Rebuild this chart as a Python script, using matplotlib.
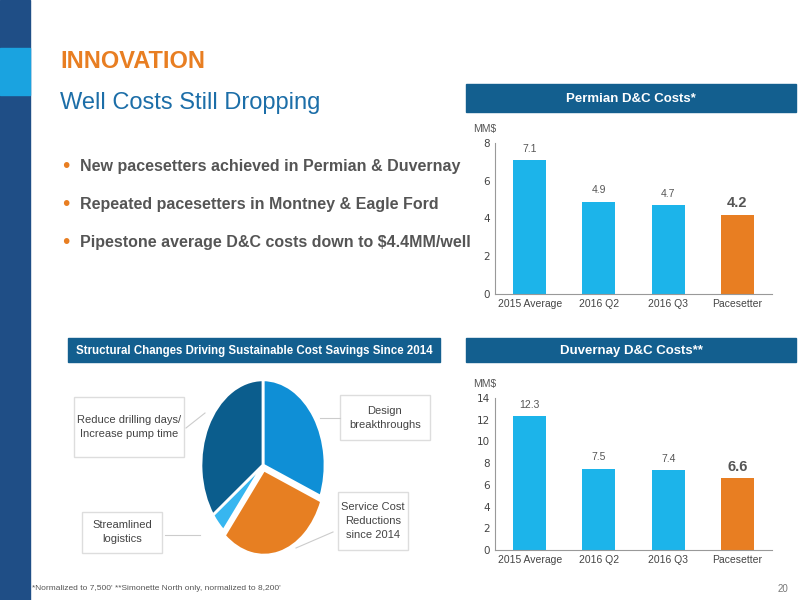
import matplotlib
matplotlib.use("Agg")
import matplotlib.pyplot as plt
from matplotlib.patches import Rectangle

cats = ["2015 Average", "2016 Q2", "2016 Q3", "Pacesetter"]
permian = [7.1, 4.9, 4.7, 4.2]
duvernay = [12.3, 7.5, 7.4, 6.6]
pie_labels = ["Design\nbreakthroughs", "Service Cost\nReductions\nsince 2014", "Streamlined\nlogistics", "Reduce drilling days/\nIncrease pump time"]
pie_vals = [31, 30, 4, 35]
pie_colors = ["#0f8fd6", "#e77f22", "#37b6f0", "#0b5d8d"]

BLUE = "#1cb4ea"; ORANGE = "#e87e22"; HDR = "#135f8f"
FONT = "Liberation Sans"
fig = plt.figure(figsize=(8, 6), dpi=100)
W, H = 800, 600
def ax_px(x0, y0, x1, y1, **kw):
    return fig.add_axes([x0/W, 1-y1/H, (x1-x0)/W, (y1-y0)/H], **kw)
def fx(x): return x/W
def fy(y): return 1-y/H

fig.patches.append(Rectangle((0, 0), fx(30), 1, transform=fig.transFigure, color="#1f4e86", zorder=0))
fig.patches.append(Rectangle((0, fy(95)), fx(30), fy(48)-fy(95), transform=fig.transFigure, color="#1aa3e0", zorder=1))

fig.text(fx(60), fy(62), "INNOVATION", color=ORANGE, fontsize=17, fontweight="bold", va="center", family=FONT)
fig.text(fx(60), fy(103), "Well Costs Still Dropping", color="#1c6ea8", fontsize=17, va="center", family=FONT)
bullets = ["New pacesetters achieved in Permian & Duvernay",
           "Repeated pacesetters in Montney & Eagle Ford",
           "Pipestone average D&C costs down to $4.4MM/well"]
for i, b in enumerate(bullets):
    y = fy(167 + 38*i)
    fig.text(fx(60), y, "•", color=ORANGE, fontsize=14, va="center")
    fig.text(fx(80), y, b, color="#555555", fontsize=11.5, fontweight="bold", va="center", family=FONT)

def header(x0, y0, x1, y1, txt, fs):
    fig.patches.append(Rectangle((fx(x0), fy(y1)), fx(x1-x0), fy(y0)-fy(y1), transform=fig.transFigure, color=HDR))
    fig.text(fx((x0+x1)/2), fy((y0+y1)/2 + 1), txt, color="white", fontsize=fs, fontweight="bold", ha="center", va="center", family=FONT)

header(466, 84, 796, 112, "Permian D&C Costs*", 9.5)
header(466, 338, 796, 362, "Duvernay D&C Costs**", 9.5)
header(68, 338, 440, 362, "Structural Changes Driving Sustainable Cost Savings Since 2014", 8.3)

def bars(ax, vals, ymax, step):
    cols = [BLUE]*3 + [ORANGE]
    ax.bar(range(4), vals, width=0.48, color=cols)
    ax.set_ylim(0, ymax); ax.set_xlim(-0.5, 3.5)
    ax.set_yticks(range(0, ymax+1, step))
    ax.set_xticks(range(4)); ax.set_xticklabels(cats, family=FONT)
    ax.tick_params(labelsize=7.5, colors="#444444", length=0)
    for s in ["top", "right"]: ax.spines[s].set_visible(False)
    for s in ["left", "bottom"]: ax.spines[s].set_color("#999999")
    for i, v in enumerate(vals):
        if i < 3:
            ax.text(i, v + ymax*0.04, f"{v}", ha="center", va="bottom", fontsize=7.5, color="#555555", family=FONT)
        else:
            ax.text(i, v + ymax*0.03, f"{v}", ha="center", va="bottom", fontsize=10.5, fontweight="bold", color="#555555", family=FONT)
    ax.text(-0.08, 1.07, "MM$", transform=ax.transAxes, fontsize=7.5, color="#555555", ha="left", family=FONT)

a1 = ax_px(495, 143, 772, 294); bars(a1, permian, 8, 2)
a2 = ax_px(495, 398, 772, 550); bars(a2, duvernay, 14, 2)

ap = ax_px(196, 373, 330, 557)
ap.pie(pie_vals, colors=pie_colors, startangle=90, counterclock=False, explode=[0, 0.06, 0, 0],
       wedgeprops=dict(edgecolor="white", linewidth=2))
ap.set_aspect("auto"); ap.set_xlim(-1.08, 1.08); ap.set_ylim(-1.08, 1.08)

boxes = [(340, 395, 430, 440, pie_labels[0], (320, 418), (340, 418)),
         (338, 492, 408, 550, pie_labels[1], (296, 548), (333, 532)),
         (82, 512, 162, 553, pie_labels[2], (200, 535), (165, 535)),
         (74, 397, 184, 457, pie_labels[3], (205, 413), (186, 428))]
for x0, y0, x1, y1, t, p1, p2 in boxes:
    fig.patches.append(Rectangle((fx(x0), fy(y1)), fx(x1-x0), fy(y0)-fy(y1), transform=fig.transFigure,
                                 facecolor="white", edgecolor="#dddddd", linewidth=1))
    fig.text(fx((x0+x1)/2), fy((y0+y1)/2), t, ha="center", va="center", fontsize=8, color="#444444", linespacing=1.5, family=FONT)
    fig.add_artist(plt.Line2D([fx(p1[0]), fx(p2[0])], [fy(p1[1]), fy(p2[1])], color="#cccccc", lw=0.8))

fig.text(fx(32), fy(589), "*Normalized to 7,500' **Simonette North only, normalized to 8,200'", fontsize=6, color="#555555", va="center", family=FONT)
fig.text(fx(788), fy(589), "20", fontsize=7, color="#777777", ha="right", va="center", family=FONT)
fig.savefig("out.png", dpi=100)
